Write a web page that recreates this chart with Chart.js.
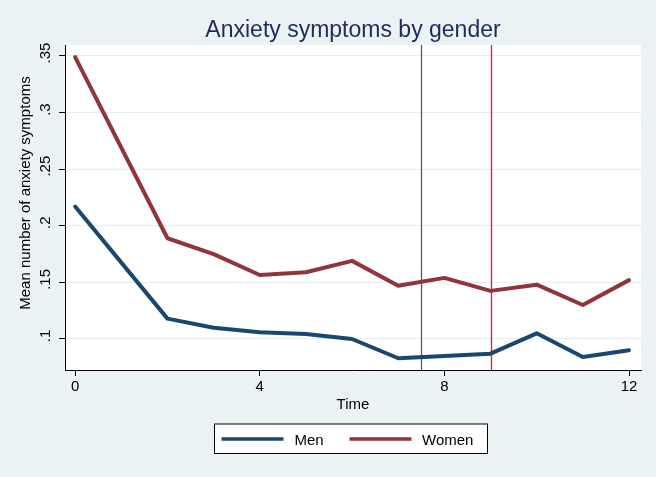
<!DOCTYPE html>
<html>
<head>
<meta charset="utf-8">
<script src="https://cdn.jsdelivr.net/npm/chart.js@4.4.0/dist/chart.umd.min.js"></script>
<style>
  body { margin: 0; background: #eaf2f3; }
  canvas { display: block; }
</style>
</head>
<body>
<canvas id="anxietyChart" width="656" height="477"></canvas>
<script>
// values (Stata graph)
const times = [0, 2, 3, 4, 5, 6, 7, 8, 9, 10, 11, 12];
const men = [0.217, 0.118, 0.110, 0.106, 0.1045, 0.100, 0.083, 0.085, 0.087, 0.105, 0.084, 0.090];
const women = [0.349, 0.189, 0.175, 0.1565, 0.159, 0.169, 0.147, 0.154, 0.1425, 0.148, 0.130, 0.152];
const xTicks = [0, 4, 8, 12];
const yTicks = [0.1, 0.15, 0.2, 0.25, 0.3, 0.35];
const yTickLabels = ['.1', '.15', '.2', '.25', '.3', '.35'];
const refLines = [7.5, 9];
const refColors = ['#5a5a5a', '#ff0a2a'];

const FONT = '"Liberation Sans", Arial, sans-serif';

const stataDecor = {
  id: 'stataDecor',
  beforeDraw(chart) {
    const { ctx, chartArea: a } = chart;
    ctx.save();
    ctx.fillStyle = '#ffffff';
    ctx.fillRect(a.left, a.top, a.right - a.left, a.bottom - a.top);
    ctx.restore();
  },
  beforeDatasetsDraw(chart) {
    const { ctx, chartArea: a } = chart;
    const xs = chart.scales.x;
    ctx.save();
    ctx.lineWidth = 1.3;
    refLines.forEach((v, i) => {
      const px = Math.round(xs.getPixelForValue(v)) + 0.5;
      ctx.strokeStyle = refColors[i];
      ctx.beginPath();
      ctx.moveTo(px, a.top);
      ctx.lineTo(px, a.bottom);
      ctx.stroke();
    });
    ctx.restore();
  },
  afterDraw(chart) {
    const { ctx, chartArea: a } = chart;
    const ys = chart.scales.y;
    const cx = (a.left + a.right) / 2;
    ctx.save();

    // title
    ctx.fillStyle = '#1e2d57';
    ctx.font = '23px ' + FONT;
    ctx.textAlign = 'center';
    ctx.textBaseline = 'alphabetic';
    ctx.fillText('Anxiety symptoms by gender', cx, 36.5);

    // y tick labels, rotated like Stata
    ctx.fillStyle = '#000';
    ctx.font = '15px ' + FONT;
    yTicks.forEach((v, i) => {
      ctx.save();
      ctx.translate(49.5, ys.getPixelForValue(v) - 3);
      ctx.rotate(-Math.PI / 2);
      ctx.fillText(yTickLabels[i], 0, 0);
      ctx.restore();
    });

    // y axis title
    ctx.save();
    ctx.translate(30, 193);
    ctx.rotate(-Math.PI / 2);
    ctx.fillText('Mean number of anxiety symptoms', 0, 0);
    ctx.restore();

    // x axis title
    ctx.fillText('Time', cx, 409);

    // legend
    const box = { l: 214, t: 423.5, r: 488, b: 454 };
    ctx.fillStyle = '#fff';
    ctx.fillRect(box.l, box.t, box.r - box.l, box.b - box.t);
    ctx.strokeStyle = '#000';
    ctx.lineWidth = 1;
    ctx.strokeRect(box.l + 0.5, box.t + 0.5, box.r - box.l - 1, box.b - box.t - 1);
    const ly = 439;
    const items = [[221.5, 283.5, 294.5], [349.5, 411.5, 422]];
    chart.data.datasets.forEach((ds, i) => {
      const [x0, x1, tx] = items[i];
      ctx.strokeStyle = ds.borderColor;
      ctx.lineWidth = 3.5;
      ctx.beginPath();
      ctx.moveTo(x0, ly);
      ctx.lineTo(x1, ly);
      ctx.stroke();
      ctx.fillStyle = '#000';
      ctx.textAlign = 'left';
      ctx.fillText(ds.label, tx, 444.5);
    });
    ctx.restore();
  }
};

const ctx = document.getElementById('anxietyChart').getContext('2d');
const chart = new Chart(ctx, {
  type: 'line',
  data: {
    datasets: [
      {
        label: 'Men',
        data: times.map((t, i) => ({ x: t, y: men[i] })),
        borderColor: '#1a476f',
        backgroundColor: '#1a476f'
      },
      {
        label: 'Women',
        data: times.map((t, i) => ({ x: t, y: women[i] })),
        borderColor: '#90353b',
        backgroundColor: '#90353b'
      }
    ]
  },
  options: {
    responsive: false,
    animation: false,
    layout: { padding: { left: 0, right: 15, top: 45, bottom: 57 } },
    elements: {
      point: { radius: 0 },
      line: { tension: 0, borderWidth: 4, borderJoinStyle: 'round', borderCapStyle: 'round' }
    },
    plugins: {
      legend: { display: false },
      title: { display: false },
      tooltip: { enabled: false }
    },
    scales: {
      x: {
        type: 'linear',
        min: -0.22,
        max: 12.26,
        afterBuildTicks: s => { s.ticks = xTicks.map(v => ({ value: v })); },
        afterFit: s => { s.height = 50; },
        grid: { drawOnChartArea: false, drawTicks: true, tickLength: 6, tickColor: '#000', tickWidth: 1 },
        border: { display: true, color: '#000', width: 1 },
        ticks: {
          color: '#000',
          font: { family: FONT, size: 15 },
          padding: 2,
          maxRotation: 0,
          callback: v => String(v)
        }
      },
      y: {
        type: 'linear',
        min: 0.0726,
        max: 0.3597,
        afterBuildTicks: s => { s.ticks = yTicks.map(v => ({ value: v })); },
        afterFit: s => { s.width = 65; },
        grid: { color: '#e4eef0', lineWidth: 1, drawTicks: true, tickLength: 6, tickColor: '#000', tickWidth: 1 },
        border: { display: true, color: '#000', width: 1 },
        ticks: { display: false }
      }
    }
  },
  plugins: [stataDecor]
});
</script>
</body>
</html>
